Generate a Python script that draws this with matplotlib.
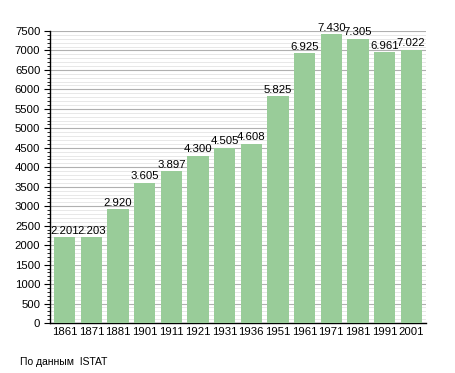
import numpy as np
import matplotlib.pyplot as plt
from matplotlib.ticker import MultipleLocator

plt.rcParams['font.family'] = ['Liberation Sans', 'DejaVu Sans']

years = ["1861", "1871", "1881", "1901", "1911", "1921", "1931", "1936",
         "1951", "1961", "1971", "1981", "1991", "2001"]
population = [2201, 2203, 2920, 3605, 3897, 4300, 4505, 4608,
              5825, 6925, 7430, 7305, 6961, 7022]

fig = plt.figure(figsize=(4.55, 3.73), dpi=100)
ax = fig.add_axes([0.110, 0.134, 0.826, 0.783])

x = np.arange(len(years))
ax.bar(x, population, width=0.8, color='#99cc99', zorder=3)

for xi, v in zip(x, population):
    lbl = f"{v:,}".replace(",", ".")
    ax.text(xi, v + 30, lbl, ha='center', va='bottom', fontsize=8.2, zorder=4)

ax.set_xlim(-0.55, len(years) - 0.45)
ax.set_ylim(0, 7500)
ax.set_xticks(x)
ax.set_xticklabels(years)
ax.yaxis.set_major_locator(MultipleLocator(500))
ax.yaxis.set_minor_locator(MultipleLocator(100))
ax.grid(axis='y', which='major', color='#b0b0b0', linewidth=0.8, zorder=0)
ax.grid(axis='y', which='minor', color='#e4e4e4', linewidth=0.6, zorder=0)

for s in ['top', 'right']:
    ax.spines[s].set_visible(False)
ax.spines['left'].set_linewidth(1)
ax.spines['bottom'].set_linewidth(1)
ax.tick_params(axis='x', length=0, labelsize=8.2, pad=3)
ax.tick_params(axis='y', which='major', length=4, labelsize=8.2, pad=3)
ax.tick_params(axis='y', which='minor', length=2)

fig.text(20 / 455, 1 - 362 / 373, "По данным  ISTAT", fontsize=7.5, va='center')

fig.savefig("out.png", dpi=100)
